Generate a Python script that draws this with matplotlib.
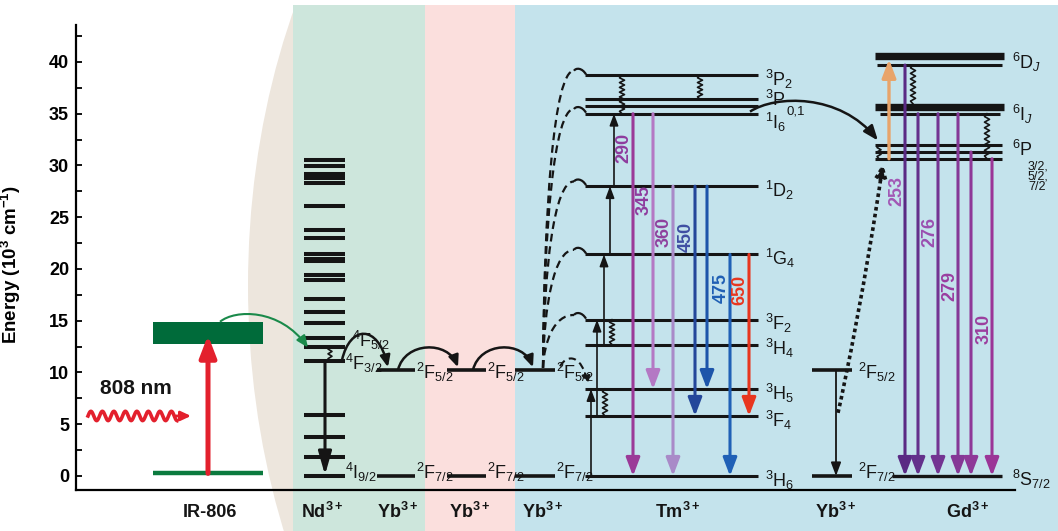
import numpy as np
import matplotlib
matplotlib.use("Agg")
import matplotlib.pyplot as plt
from matplotlib.patches import Rectangle, Ellipse, FancyArrowPatch
from matplotlib.path import Path
from matplotlib.ticker import MultipleLocator

plt.rcParams.update({"font.family": "Liberation Sans", "mathtext.fontset": "custom",
                     "mathtext.rm": "Liberation Sans", "mathtext.it": "Liberation Sans:italic",
                     "mathtext.bf": "Liberation Sans:bold"})

# ── energy levels (10^3 cm^-1) ───────────────────────────────────────────────
IR_BAND = (12.8, 14.9)
IR_GROUND = 0.25
ND_LEVELS = [30.5, 29.9, 29.2, 28.75, 28.35, 26.1, 23.8, 23.0, 21.4, 21.0, 20.75,
             19.4, 18.9, 17.1, 15.8, 14.8, 13.3, 12.5, 11.1, 5.9, 3.8, 1.8, 0.0]
YB_EXC, YB_GND = 10.25, 0.0
TM_NAMES = ["3H6", "3F4", "3H5", "3H4", "3F2", "1G4", "1D2", "1I6", "3P1", "3P0", "3P2"]
TM_E = dict(zip(TM_NAMES, [0.0, 5.8, 8.4, 12.7, 15.1, 21.4, 28.0, 35.0, 35.7, 36.4, 38.7]))
TM_LABELS = {"3H6": "$^3$H$_6$", "3F4": "$^3$F$_4$", "3H5": "$^3$H$_5$", "3H4": "$^3$H$_4$",
             "3F2": "$^3$F$_2$", "1G4": "$^1$G$_4$", "1D2": "$^1$D$_2$", "3P2": "$^3$P$_2$"}
GD_6D = (40.55, 39.7)
GD_6I = (35.65, 35.0)
GD_6P = [31.95, 31.3, 30.65]
GD_GND = 0.0

# Tm3+ emissions: start level, end level, wavelength label
TM_EM_FROM = ["1I6", "1I6", "1D2", "1D2", "1D2", "1G4", "1G4"]
TM_EM_TO = ["3H6", "3H5", "3H6", "3F4", "3H5", "3H6", "3F4"]
TM_EM_NM = ["290", "345", "360", "450", "", "475", "650"]
# Gd3+ emissions down to 8S7/2
GD_EM_FROM = [39.7, 35.0, 35.0, 35.0, 31.3, 30.65]
GD_EM_NM = ["253", "", "276", "279", "", "310"]

# ── layout / style ───────────────────────────────────────────────────────────
TM_EM_X = [633, 653, 673, 695, 707, 730, 749]
TM_EM_COL = ["#9b3a98", "#b478c4", "#a98ac8", "#24479a", "#1d55aa", "#1f60b6", "#e8361f"]
TM_TXT_COL = ["#8e3b9e", "#8e3b9e", "#8e409e", "#3f4fa3", "", "#1f5fb4", "#e8361f"]
TM_TXT_Y = [31.7, 26.7, 23.6, 23.1, 0, 18.2, 18.0]
GD_EM_X = [905, 918, 938, 958, 971, 992]
GD_EM_COL = ["#5a2a84", "#63308b", "#733492", "#853896", "#8e3898", "#9b3597"]
GD_TXT_COL = ["#a257b5", "", "#9a4fb0", "#9a3ea0", "", "#9b3e9e"]
GD_TXT_Y = [27.5, 0, 23.6, 18.4, 0, 14.2]
K = "#151515"

fig = plt.figure(figsize=(10.58, 5.31), dpi=100)
ax = fig.add_axes([76 / 1058, 41 / 531, 939 / 1058, 465 / 531])
ax.set_xlim(76, 1015)
ax.set_ylim(-1.353, 43.57)

# background panels
ell = Ellipse((658, 18.4), 820, 116, color="#ede6dd", lw=0, zorder=0)
ax.add_patch(ell)
ell.set_clip_path(Rectangle((0, -10), 1100, 55.5, transform=ax.transData))
for x0, x1, c in [(293, 425, "#cde6dc"), (425, 515, "#fbdfdd"), (515, 1060, "#c4e3ec")]:
    ax.add_patch(Rectangle((x0, -5.4), x1 - x0, 50.9, color=c, lw=0, zorder=0.5, clip_on=False))

for s in ["top", "right"]:
    ax.spines[s].set_visible(False)
for s in ["left", "bottom"]:
    ax.spines[s].set_linewidth(1.6)
ax.set_xticks([])
ax.set_yticks(range(0, 41, 5))
ax.yaxis.set_minor_locator(MultipleLocator(2.5))
ax.tick_params(axis="y", which="both", direction="in", length=4, width=1.3, labelsize=13, pad=5)
for t in ax.get_yticklabels():
    t.set_fontweight("bold")
ax.set_ylabel(r"Energy (10$^{\mathbf{3}}$ cm$^{\mathbf{-1}}$)", fontsize=13.5, fontweight="bold")
ax.yaxis.set_label_coords(-0.056, 0.486)


def level(x0, x1, e, lw=2.2, color=K, z=3):
    ax.plot([x0, x1], [e, e], color=color, lw=lw, solid_capstyle="butt", zorder=z, clip_on=False)


def arrow(p0, p1, color=K, lw=2.2, hl=10, hw=3.6, ls="-", z=4):
    ax.add_patch(FancyArrowPatch(p0, p1, arrowstyle=f"-|>,head_length={hl},head_width={hw}",
                                 mutation_scale=1, color=color, lw=lw, ls=ls, shrinkA=0, shrinkB=0,
                                 zorder=z, clip_on=False))


def curve(pts, color=K, lw=1.8, head=True, hl=7, hw=3, ls="-", z=5):
    path = Path(pts, [Path.MOVETO, Path.CURVE4, Path.CURVE4, Path.CURVE4])
    style = f"-|>,head_length={hl},head_width={hw}" if head else "-"
    ax.add_patch(FancyArrowPatch(path=path, arrowstyle=style, mutation_scale=1, color=color,
                                 lw=lw, ls=ls, capstyle="butt", zorder=z, clip_on=False))


def squiggle(x, e0, e1, n=8, amp=2.5, lw=1.2):
    ys = np.linspace(e0, e1, 2 * n + 1)
    xs = x + amp * np.array([0] + [(-1) ** i for i in range(1, 2 * n)] + [0])
    ax.plot(xs, ys, color=K, lw=lw, zorder=4, clip_on=False)


def label(x, e, s, size=13, **kw):
    ax.text(x, e, s, fontsize=size, ha="left", va="center", color=K, zorder=6, **kw)


# ── IR-806 ───────────────────────────────────────────────────────────────────
ax.add_patch(Rectangle((153, IR_BAND[0]), 110, IR_BAND[1] - IR_BAND[0], color="#006b3a", lw=0, zorder=3))
level(153, 263, IR_GROUND, lw=3.2, color="#0b7a3e")
arrow((208, IR_GROUND), (208, IR_BAND[0] + 0.8), color="#e3202d", lw=3.6, hl=13, hw=5)
curve([(220, IR_BAND[1]), (235, 16.1), (280, 16.2), (308, 12.4)], color="#1a8a4a", lw=1.5)
ax.text(136, 8.5, "808 nm", fontsize=15, fontweight="bold", ha="center", va="center", color=K)
xw = np.linspace(88, 177, 300)
ax.plot(xw, 5.8 + 0.45 * np.sin(2 * np.pi * (xw - 88) / 11.5), color="#e3202d", lw=2.6)
arrow((176, 5.8), (191, 5.8), color="#e3202d", lw=2.0, hl=6, hw=2.8)

# ── Nd3+ ─────────────────────────────────────────────────────────────────────
for e in ND_LEVELS:
    level(304, 345, e, lw=2.9)
arrow((325, 11.1), (325, 0.1), lw=2.2, hl=14, hw=4)
squiggle(330, 12.5, 11.1, n=3, amp=2)
label(352, 13.1, "$^4$F$_{5/2}$")
label(345, 10.9, "$^4$F$_{3/2}$")
label(345, 0.35, "$^4$I$_{9/2}$")

# ── Yb3+ sensitiser chain ────────────────────────────────────────────────────
for x0, x1 in [(377, 415), (447, 486), (515, 555)]:
    level(x0, x1, YB_EXC, lw=2.6)
    level(x0, x1, YB_GND, lw=2.6)
    label(x1 + 1, YB_EXC - 0.2, "$^2$F$_{5/2}$")
    label(x1 + 1, YB_GND + 0.35, "$^2$F$_{7/2}$")
curve([(342, 11.2), (350, 14.6), (378, 14.7), (388, 10.5)])
curve([(398, YB_EXC), (405, 13.0), (448, 13.1), (458, 10.5)])
curve([(473, YB_EXC), (480, 13.0), (523, 13.1), (533, 10.5)])

# ── Tm3+ ─────────────────────────────────────────────────────────────────────
for n in TM_NAMES:
    level(585, 758, TM_E[n])
    if n in TM_LABELS:
        label(765, TM_E[n] - 0.4, TM_LABELS[n])
label(765, 36.3, "$^3$P")
label(786, 35.2, "0,1", size=9.5)
label(765, 34.2, "$^1$I$_6$")
# Yb -> Tm energy transfer (dashed) with hooks
for n in ["3F2", "1G4", "1D2", "1I6", "3P2"]:
    e = TM_E[n]
    d = e - YB_EXC
    curve([(543, YB_EXC + 0.2), (544, YB_EXC + 0.55 * d), (554, e + 0.5), (574, e + 0.45)],
          head=False, lw=1.6, ls=(0, (3.5, 2.2)))
    curve([(574, e + 0.45), (576, e + 0.75), (582, e + 0.75), (586, e + 0.1)], head=False, lw=1.6)
curve([(560, 10.6), (568, 11.9), (582, 11.6), (588, 8.9)], lw=1.5, ls=(0, (3.5, 2.2)), hl=5, hw=2.5)
# upconversion steps
for x, a, b in [(591, "3H6", "3H5"), (597, "3F4", "3F2"), (604, "3H4", "1G4"),
                (610, "1G4", "1D2"), (614, "1D2", "1I6")]:
    arrow((x, TM_E[a]), (x, TM_E[b]), lw=1.2, hl=7, hw=2.6)
squiggle(622, TM_E["3P2"], TM_E["1I6"], n=8)
squiggle(700, TM_E["3P2"], TM_E["3P0"], n=5)
squiggle(612, TM_E["3F2"], TM_E["3H4"], n=5)
squiggle(605, TM_E["3H5"], TM_E["3F4"], n=5)
for x, a, b, c, nm, tc, ty in zip(TM_EM_X, TM_EM_FROM, TM_EM_TO, TM_EM_COL, TM_EM_NM, TM_TXT_COL, TM_TXT_Y):
    arrow((x, TM_E[a]), (x, TM_E[b]), color=c, lw=2.2, hl=11, hw=4.2)
    if nm:
        ax.text(x - 9, ty, nm, rotation=90, fontsize=13, fontweight="bold", color=tc,
                ha="center", va="center", zorder=6)
# Tm -> Gd transfer
curve([(750, 35.2), (775, 36.8), (840, 37.0), (878, 32.4)], lw=1.8, hl=9, hw=3.5)

# ── Yb3+ -> Gd3+ ─────────────────────────────────────────────────────────────
level(812, 852, YB_EXC, lw=2.6)
level(812, 852, YB_GND, lw=2.6)
label(858, YB_EXC - 0.2, "$^2$F$_{5/2}$")
label(858, YB_GND + 0.35, "$^2$F$_{7/2}$")
arrow((836, YB_EXC), (836, YB_GND), lw=1.3, hl=8, hw=3)
curve([(838, 6.1), (846, 9.5), (866, 19.0), (883, 30.2)], lw=2.6, ls=(0, (1, 0.9)), hl=8, hw=3.5)

# ── Gd3+ ─────────────────────────────────────────────────────────────────────
level(875, 1004, GD_6D[0], lw=5.3)
level(877, 1002, GD_6D[1], lw=2.2)
level(875, 1004, GD_6I[0], lw=5.3)
level(880, 1000, GD_6I[1], lw=2.2)
for e in GD_6P:
    level(875, 1002, e, lw=2.2)
level(892, 1002, GD_GND, lw=2.4)
squiggle(913, GD_6D[1], GD_6I[0] + 0.3, n=7)
squiggle(987, GD_6I[1], GD_6P[2], n=8)
squiggle(879, GD_6P[0], GD_6P[2], n=3, amp=2)
arrow((889, GD_6P[2]), (889, GD_6D[0] - 0.3), color="#e8a46a", lw=2.4, hl=11, hw=4.2)
for x, e, c, nm, tc, ty in zip(GD_EM_X, GD_EM_FROM, GD_EM_COL, GD_EM_NM, GD_TXT_COL, GD_TXT_Y):
    arrow((x, e), (x, GD_GND), color=c, lw=2.2, hl=11, hw=4.2)
    if nm:
        ax.text(x - 8, ty, nm, rotation=90, fontsize=13, fontweight="bold", color=tc,
                ha="center", va="center", zorder=6)
label(1012, GD_6D[0] - 0.6, "$^6$D$_J$")
label(1012, GD_6I[0] - 0.7, "$^6$I$_J$")
label(1012, 31.5, "$^6$P")
for e, s in zip([29.9, 28.9, 27.9], ["3/2,", "5/2,", "7/2"]):
    label(1028, e, s, size=9)
label(1012, GD_GND - 0.3, "$^8$S$_{7/2}$")

# ── species labels ───────────────────────────────────────────────────────────
for x, s in [(210, "IR-806"), (322, r"Nd$^{\mathbf{3+}}$"), (398, r"Yb$^{\mathbf{3+}}$"),
             (470, r"Yb$^{\mathbf{3+}}$"), (543, r"Yb$^{\mathbf{3+}}$"), (678, r"Tm$^{\mathbf{3+}}$"),
             (836, r"Yb$^{\mathbf{3+}}$"), (968, r"Gd$^{\mathbf{3+}}$")]:
    ax.text(x, -3.5, s, fontsize=13, fontweight="bold", ha="center", va="center", color=K)

fig.savefig("out.png", dpi=100)
